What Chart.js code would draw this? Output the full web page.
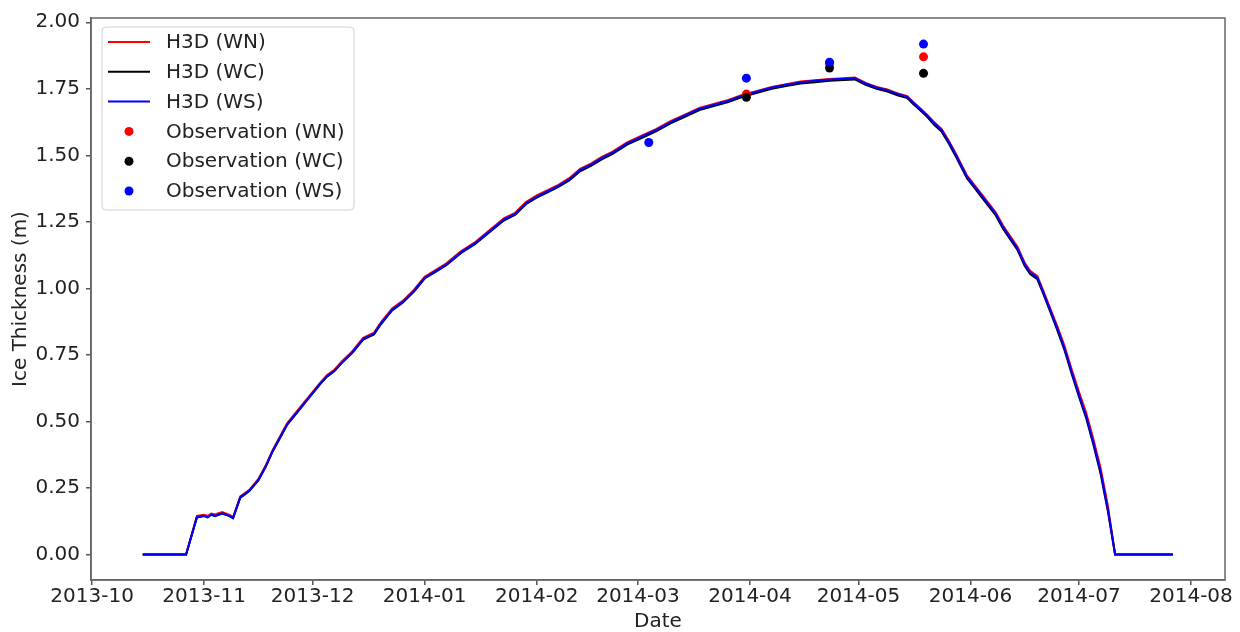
<!DOCTYPE html>
<html>
<head>
<meta charset="utf-8">
<script src="https://cdn.jsdelivr.net/npm/chart.js@4/dist/chart.umd.min.js"></script>
<style>
  html, body { margin: 0; padding: 0; background: #fff; }
  #wrap { width: 1240px; height: 632px; }
</style>
</head>
<body>
<div id="wrap"><canvas id="chart_ice" width="1240" height="632"></canvas></div>
<script>
// days counted from 2013-10-01
var tickDays = [0, 31, 61, 92, 123, 151, 182, 212, 243, 273, 304];
var tickLabels = ['2013-10', '2013-11', '2013-12', '2014-01', '2014-02', '2014-03',
                  '2014-04', '2014-05', '2014-06', '2014-07', '2014-08'];
var yTicks = [0, 0.25, 0.5, 0.75, 1.0, 1.25, 1.5, 1.75, 2.0];

var days = [
    14, 26, 29, 31, 32, 33, 34, 35, 36, 37,
    38, 39, 41, 42, 43.5, 46, 48, 50, 52, 54,
    57, 60, 63, 65, 67, 69, 72, 75, 78, 80,
    83, 86, 89, 92, 95, 98, 102, 106, 110, 114,
    117, 120, 123, 126, 129, 132, 135, 138, 141, 144,
    148, 152, 156, 160, 164, 168, 172, 176, 180, 184,
    188, 192, 196, 200, 204, 208, 211, 212.5, 214, 217,
    220, 223, 225.5, 227, 229, 231, 233, 235, 237, 239,
    240.5, 242, 244, 246, 248, 250, 252, 254, 256, 258,
    259.5, 261.5, 263, 265, 267, 269, 271, 273, 275, 277,
    279, 281, 283, 299
];

var h3dWN = [
    0, 0, 0.145, 0.149, 0.145, 0.154, 0.15, 0.155, 0.159, 0.154,
    0.149, 0.14, 0.218, 0.228, 0.243, 0.284, 0.334, 0.394, 0.444, 0.494,
    0.544, 0.594, 0.644, 0.674, 0.694, 0.724, 0.764, 0.814, 0.834, 0.874,
    0.924, 0.954, 0.994, 1.044, 1.069, 1.094, 1.139, 1.174, 1.219, 1.264,
    1.284, 1.324, 1.349, 1.369, 1.389, 1.414, 1.449, 1.469, 1.494, 1.514,
    1.549, 1.574, 1.598, 1.628, 1.653, 1.678, 1.693, 1.708, 1.728, 1.742,
    1.757, 1.767, 1.777, 1.782, 1.787, 1.79, 1.792, 1.782, 1.772, 1.757,
    1.747, 1.732, 1.722, 1.702, 1.678, 1.653, 1.624, 1.599, 1.555, 1.505,
    1.465, 1.425, 1.39, 1.355, 1.32, 1.285, 1.236, 1.196, 1.156, 1.096,
    1.066, 1.046, 0.996, 0.927, 0.858, 0.784, 0.695, 0.611, 0.532, 0.433,
    0.324, 0.183, 0, 0
];

var h3dWC = [
    0, 0, 0.139, 0.144, 0.139, 0.149, 0.144, 0.149, 0.154, 0.149,
    0.144, 0.136, 0.213, 0.223, 0.238, 0.278, 0.328, 0.388, 0.438, 0.488,
    0.538, 0.588, 0.638, 0.668, 0.688, 0.718, 0.758, 0.807, 0.827, 0.867,
    0.917, 0.947, 0.987, 1.037, 1.062, 1.087, 1.132, 1.167, 1.212, 1.256,
    1.276, 1.316, 1.341, 1.361, 1.381, 1.406, 1.44, 1.46, 1.485, 1.505,
    1.54, 1.565, 1.59, 1.62, 1.645, 1.67, 1.685, 1.7, 1.72, 1.735,
    1.75, 1.76, 1.77, 1.775, 1.78, 1.783, 1.785, 1.775, 1.765, 1.75,
    1.74, 1.725, 1.715, 1.695, 1.67, 1.645, 1.614, 1.589, 1.544, 1.494,
    1.454, 1.414, 1.379, 1.344, 1.309, 1.274, 1.224, 1.184, 1.144, 1.084,
    1.054, 1.034, 0.984, 0.914, 0.843, 0.768, 0.678, 0.593, 0.512, 0.412,
    0.302, 0.162, 0, 0
];

var h3dWS = [
    0, 0, 0.14, 0.145, 0.14, 0.15, 0.145, 0.15, 0.155, 0.15,
    0.145, 0.137, 0.215, 0.225, 0.24, 0.28, 0.33, 0.39, 0.44, 0.49,
    0.54, 0.59, 0.64, 0.67, 0.69, 0.72, 0.76, 0.81, 0.83, 0.87,
    0.92, 0.95, 0.99, 1.04, 1.065, 1.09, 1.135, 1.17, 1.215, 1.26,
    1.28, 1.32, 1.345, 1.365, 1.385, 1.41, 1.445, 1.465, 1.49, 1.51,
    1.545, 1.57, 1.595, 1.625, 1.65, 1.675, 1.69, 1.705, 1.725, 1.74,
    1.755, 1.765, 1.775, 1.78, 1.785, 1.788, 1.79, 1.78, 1.77, 1.755,
    1.745, 1.73, 1.72, 1.70, 1.675, 1.65, 1.62, 1.595, 1.55, 1.50,
    1.46, 1.42, 1.385, 1.35, 1.315, 1.28, 1.23, 1.19, 1.15, 1.09,
    1.06, 1.04, 0.99, 0.92, 0.85, 0.775, 0.685, 0.60, 0.52, 0.42,
    0.31, 0.17, 0, 0
];

// observations
var obsWNDays = [181, 204, 230];
var obsWN = [1.73, 1.845, 1.87];
var obsWCDays = [181, 204, 230];
var obsWC = [1.718, 1.828, 1.808];
var obsWSDays = [154, 181, 204, 230];
var obsWS = [1.548, 1.79, 1.85, 1.918];

function pairs(xs, ys) {
    return xs.map(function (x, i) { return {x: x, y: ys[i]}; });
}

var FONT = 'DejaVu Sans';
var TXT = '#222';

// frame round the plot area + matplotlib style legend
var framePlugin = {
    id: 'frameLegend',
    afterDraw: function (chart) {
        var ctx = chart.ctx;
        var a = chart.chartArea;
        ctx.save();
        ctx.strokeStyle = '#666';
        ctx.lineWidth = 1.5;
        ctx.strokeRect(a.left, a.top, a.right - a.left, a.bottom - a.top);

        // legend box
        var bx = 102, by = 27, bw = 252, bh = 183;
        ctx.beginPath();
        ctx.roundRect(bx, by, bw, bh, 4);
        ctx.fillStyle = 'rgba(255,255,255,0.8)';
        ctx.fill();
        ctx.strokeStyle = '#d0d0d0';
        ctx.lineWidth = 1;
        ctx.stroke();

        ctx.font = '20px "' + FONT + '"';
        ctx.textBaseline = 'middle';
        ctx.textAlign = 'left';
        chart.data.datasets.forEach(function (ds, i) {
            var y = 42 + i * 29.8;
            if (ds.type === 'scatter') {
                ctx.beginPath();
                ctx.arc(129, y, 4.5, 0, Math.PI * 2);
                ctx.fillStyle = ds.backgroundColor;
                ctx.fill();
            } else {
                ctx.beginPath();
                ctx.moveTo(108, y);
                ctx.lineTo(150, y);
                ctx.strokeStyle = ds.borderColor;
                ctx.lineWidth = 2;
                ctx.stroke();
            }
            ctx.fillStyle = TXT;
            ctx.fillText(ds.label, 166, y + 1);
        });
        ctx.restore();
    }
};

var ctx = document.getElementById('chart_ice');
var iceChart = new Chart(ctx, {
    type: 'line',
    data: {
        datasets: [
            {label: 'H3D (WN)', data: pairs(days, h3dWN), borderColor: '#ff0000', order: 6},
            {label: 'H3D (WC)', data: pairs(days, h3dWC), borderColor: '#000000', order: 5},
            {label: 'H3D (WS)', data: pairs(days, h3dWS), borderColor: '#0000ff', order: 4},
            {type: 'scatter', label: 'Observation (WN)', data: pairs(obsWNDays, obsWN), backgroundColor: '#ff0000', order: 3},
            {type: 'scatter', label: 'Observation (WC)', data: pairs(obsWCDays, obsWC), backgroundColor: '#000000', order: 2},
            {type: 'scatter', label: 'Observation (WS)', data: pairs(obsWSDays, obsWS), backgroundColor: '#0000ff', order: 1}
        ]
    },
    options: {
        responsive: false,
        animation: false,
        devicePixelRatio: 1,
        layout: {padding: {left: 0, top: 15, right: 15, bottom: 0}},
        elements: {
            line: {borderWidth: 2, tension: 0, fill: false},
            point: {radius: 0, hoverRadius: 0}
        },
        datasets: {
            scatter: {pointRadius: 4.5, pointBorderWidth: 0, showLine: false}
        },
        plugins: {
            legend: {display: false},
            tooltip: {enabled: false}
        },
        scales: {
            x: {
                type: 'linear',
                min: -0.3,
                max: 313.4,
                afterBuildTicks: function (scale) {
                    scale.ticks = tickDays.map(function (v) { return {value: v}; });
                },
                afterFit: function (scale) { scale.height = 52; },
                ticks: {
                    autoSkip: false,
                    maxRotation: 0,
                    padding: 0,
                    color: TXT,
                    font: {family: FONT, size: 20},
                    callback: function (value) {
                        var k = tickDays.indexOf(value);
                        return k >= 0 ? tickLabels[k] : '';
                    }
                },
                grid: {drawOnChartArea: false, drawTicks: true, tickLength: 5, color: '#555', lineWidth: 1.5},
                border: {display: true, color: '#666', width: 1.5},
                title: {
                    display: true,
                    text: 'Date',
                    color: TXT,
                    font: {family: FONT, size: 20, lineHeight: 1.0},
                    padding: {top: 0, bottom: 0}
                }
            },
            y: {
                type: 'linear',
                min: -0.096,
                max: 2.016,
                afterBuildTicks: function (scale) {
                    scale.ticks = yTicks.map(function (v) { return {value: v}; });
                },
                afterFit: function (scale) { scale.width = 91; },
                ticks: {
                    padding: 6,
                    color: TXT,
                    font: {family: FONT, size: 20},
                    callback: function (value) { return value.toFixed(2); }
                },
                grid: {drawOnChartArea: false, drawTicks: true, tickLength: 5, color: '#555', lineWidth: 1.5},
                border: {display: true, color: '#666', width: 1.5},
                title: {
                    display: true,
                    text: 'Ice Thickness (m)',
                    color: TXT,
                    font: {family: FONT, size: 20, lineHeight: 1.0},
                    padding: {top: 11, bottom: 0}
                }
            }
        }
    },
    plugins: [framePlugin]
});
</script>
</body>
</html>
